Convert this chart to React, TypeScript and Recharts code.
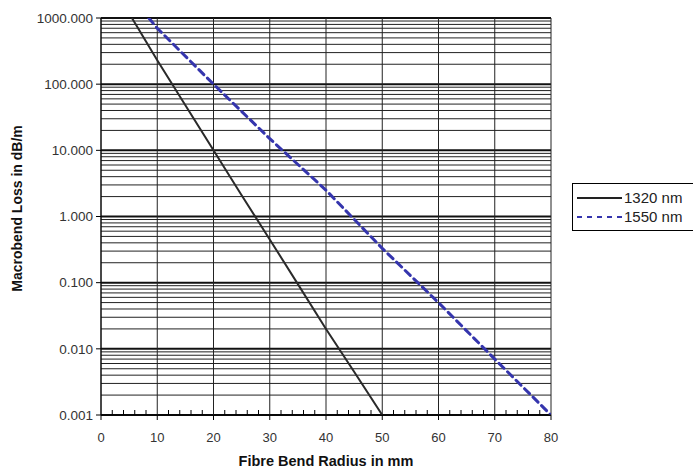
import { LineChart, Line, XAxis, YAxis, ReferenceLine, Legend, Label } from 'recharts';

// readings: bend radius (mm) vs loss (dB/m)
const radius1320 = [5.5, 10, 15, 20, 25, 30, 35, 40, 45, 50];
const loss1320 = [1000, 230, 48, 10, 2.1, 0.45, 0.095, 0.02, 0.0045, 0.001];
const radius1550 = [8.5, 10, 20, 30, 40, 50, 60, 70, 80];
const loss1550 = [1000, 700, 100, 15, 2.5, 0.33, 0.05, 0.007, 0.001];

const yTicks = [0.001, 0.01, 0.1, 1, 10, 100, 1000];
const xTicks = [0, 2, 4, 6, 8, 10, 12, 14, 16, 18, 20, 22, 24, 26, 28, 30, 32, 34, 36, 38, 40, 42, 44, 46, 48, 50, 52, 54, 56, 58, 60, 62, 64, 66, 68, 70, 72, 74, 76, 78, 80];
const xMajor = [0, 10, 20, 30, 40, 50, 60, 70, 80];
const minorSteps = [2, 3, 4, 5, 6, 7, 8, 9];

const data1320 = radius1320.map((x, i) => ({ x, loss: loss1320[i] }));
const data1550 = radius1550.map((x, i) => ({ x, loss: loss1550[i] }));
const minorY = yTicks.slice(0, -1).flatMap((d) => minorSteps.map((m) => +(d * m).toPrecision(3)));

const FONT = 'Liberation Sans, Arial, sans-serif';

const XTick = (props: any) => {
  const { x, y, payload } = props;
  const axisY = y - 5;
  const v = payload.value;
  if (v % 10 === 0) {
    return (
      <g>
        <line x1={x} x2={x} y1={axisY} y2={axisY + 5} stroke="#000" />
        <text x={x} y={axisY + 27} textAnchor="middle" fontSize={13} fill="#333" fontFamily={FONT}>
          {v}
        </text>
      </g>
    );
  }
  return <line x1={x} x2={x} y1={axisY} y2={axisY - 5} stroke="#000" />;
};

const LegendBox = () => (
  <div
    style={{
      border: '1px solid #000',
      width: 124,
      height: 48,
      boxSizing: 'border-box',
      fontFamily: FONT,
      fontSize: 15,
      color: '#222',
      padding: '4px 0 0 4px',
      background: '#fff',
    }}
  >
    <div style={{ display: 'flex', alignItems: 'center', height: 19 }}>
      <svg width={47} height={6}>
        <line x1={0} x2={45} y1={3} y2={3} stroke="#222" strokeWidth={2} />
      </svg>
      <span>1320 nm</span>
    </div>
    <div style={{ display: 'flex', alignItems: 'center', height: 19 }}>
      <svg width={47} height={6}>
        <line x1={0} x2={45} y1={3} y2={3} stroke="#3535ad" strokeWidth={2} strokeDasharray="5 5" />
      </svg>
      <span>1550 nm</span>
    </div>
  </div>
);

export default function App() {
  return (
    <div style={{ position: 'absolute', left: 0, top: 0, background: '#fff' }}>
      <LineChart width={693} height={468} margin={{ top: 18, right: 142, left: 26, bottom: 0 }}>
        {minorY.map((v) => (
          <ReferenceLine key={'m' + v} y={v} stroke="#222" strokeWidth={1} ifOverflow="hidden" />
        ))}
        {yTicks.map((v) => (
          <ReferenceLine key={'M' + v} y={v} stroke="#111" strokeWidth={2} />
        ))}
        {xMajor.map((v) => (
          <ReferenceLine key={'x' + v} x={v} stroke="#222" strokeWidth={1} />
        ))}
        <XAxis
          type="number"
          dataKey="x"
          domain={[0, 80]}
          ticks={xTicks}
          interval={0}
          height={53}
          tickSize={5}
          tickMargin={0}
          tickLine={false}
          axisLine={{ stroke: '#000' }}
          tick={<XTick />}
          allowDataOverflow
        >
          <Label
            value="Fibre Bend Radius in mm"
            position="insideBottom"
            offset={2}
            style={{ fontFamily: FONT, fontSize: 14.5, fontWeight: 'bold', fill: '#111' }}
          />
        </XAxis>
        <YAxis
          type="number"
          scale="log"
          domain={[0.001, 1000]}
          ticks={yTicks}
          interval={0}
          width={75}
          allowDataOverflow
          tickSize={5}
          tickMargin={3}
          tickLine={{ stroke: '#000' }}
          axisLine={{ stroke: '#000' }}
          tickFormatter={(v: number) => v.toFixed(3)}
          tick={{ fontSize: 13.5, fill: '#333', fontFamily: FONT }}
        >
          <Label
            value="Macrobend Loss in dB/m"
            angle={-90}
            position="insideLeft"
            offset={-9}
            dy={-8}
            style={{ fontFamily: FONT, fontSize: 14, fontWeight: 'bold', fill: '#111', textAnchor: 'middle' }}
          />
        </YAxis>
        <Legend
          layout="vertical"
          align="center"
          verticalAlign="middle"
          content={<LegendBox />}
          wrapperStyle={{ left: 572, top: 183, width: 124 }}
        />
        <Line
          data={data1320}
          dataKey="loss"
          name="1320 nm"
          type="linear"
          stroke="#2a2a2a"
          strokeWidth={2}
          dot={false}
          isAnimationActive={false}
        />
        <Line
          data={data1550}
          dataKey="loss"
          name="1550 nm"
          type="linear"
          stroke="#3535ad"
          strokeWidth={3}
          strokeDasharray="7 5"
          strokeLinecap="round"
          dot={false}
          isAnimationActive={false}
        />
      </LineChart>
    </div>
  );
}
